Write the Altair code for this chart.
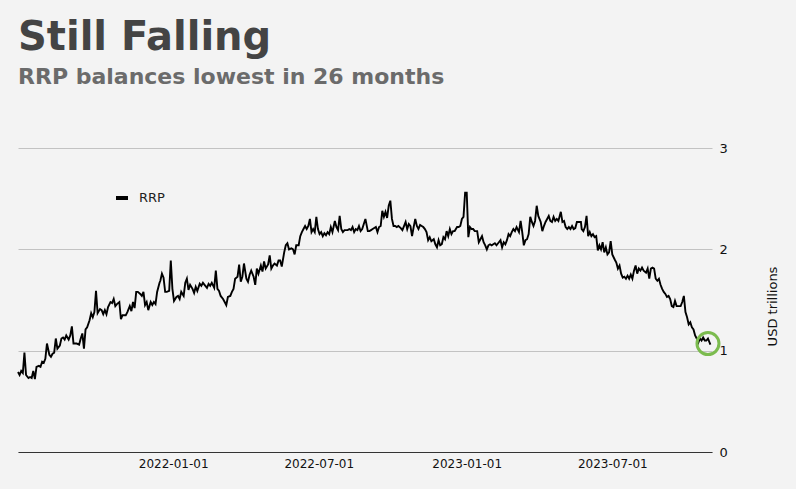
import altair as alt
import pandas as pd

# ---- data (USD trillions) ----
seg_a_vals = [0.79, 0.76, 0.80, 0.78, 0.98, 0.76, 0.73, 0.74, 0.73, 0.80, 0.72, 0.84, 0.85, 0.84, 0.89, 0.88,
              0.92, 1.07, 0.96, 0.94, 0.97, 0.98, 1.12, 1.02, 1.05, 1.12, 1.13, 1.11, 1.15, 1.11, 1.15, 1.24,
              1.07, 1.07, 1.07, 1.06, 1.12, 1.17, 1.02, 1.21, 1.23, 1.30, 1.37, 1.33, 1.38, 1.59, 1.37, 1.41,
              1.40, 1.36, 1.40, 1.36, 1.43, 1.48, 1.47, 1.51, 1.44, 1.46, 1.48, 1.31, 1.35, 1.35, 1.35, 1.38,
              1.44, 1.39, 1.48, 1.42, 1.58, 1.58, 1.56, 1.54, 1.58, 1.45, 1.48, 1.40, 1.48, 1.45, 1.48, 1.46,
              1.58, 1.67]
seg_b_vals = [1.69, 1.76, 1.72, 1.58, 1.58, 1.59, 1.89, 1.61, 1.49, 1.53, 1.54, 1.51, 1.58, 1.54, 1.67, 1.71,
              1.60, 1.65, 1.61, 1.57, 1.63, 1.59, 1.66, 1.64, 1.67, 1.65, 1.62, 1.66, 1.64, 1.67, 1.62, 1.79,
              1.61, 1.59, 1.54, 1.51, 1.48, 1.45, 1.53, 1.54, 1.58, 1.61, 1.71, 1.73, 1.85, 1.68, 1.73, 1.86,
              1.71, 1.68, 1.75, 1.79, 1.73, 1.65, 1.81, 1.76, 1.84, 1.78, 1.88, 1.81, 1.85, 1.94, 1.81, 1.84,
              1.86, 1.84, 1.89, 1.89, 1.83, 1.97, 2.04, 2.06, 2.00, 2.01, 2.00, 1.95, 2.04, 2.04]
seg_c_vals = [2.13, 2.17, 2.20, 2.23, 2.20, 2.23, 2.30, 2.17, 2.20, 2.17, 2.32, 2.20, 2.15, 2.17, 2.13, 2.16,
              2.14, 2.17, 2.15, 2.22, 2.17, 2.28, 2.22, 2.19, 2.33, 2.20, 2.17, 2.19, 2.19, 2.19, 2.20, 2.19,
              2.22, 2.17, 2.20, 2.19, 2.23, 2.18, 2.20, 2.25, 2.30, 2.18, 2.18, 2.19, 2.20, 2.21, 2.22, 2.17,
              2.22, 2.23, 2.38, 2.32, 2.37, 2.31, 2.43, 2.48, 2.30, 2.23, 2.23, 2.22, 2.23, 2.21, 2.19, 2.23,
              2.27, 2.20, 2.25, 2.23, 2.13, 2.22, 2.30, 2.23, 2.20, 2.24, 2.23, 2.22, 2.20, 2.17, 2.09, 2.12,
              2.08, 2.10]
seg_d_vals = [2.05, 2.02, 2.09, 2.04, 2.05, 2.12, 2.10, 2.18, 2.13, 2.20, 2.15, 2.18, 2.18, 2.22, 2.22, 2.23,
              2.30, 2.32, 2.56, 2.56, 2.12, 2.22, 2.20, 2.20, 2.18, 2.18, 2.07, 2.10, 2.13, 2.07, 2.04, 2.00,
              2.04, 2.05, 2.04, 2.05, 2.06, 2.04, 2.07, 2.09, 2.02, 2.07, 2.05, 2.09, 2.15, 2.13, 2.17, 2.20,
              2.18, 2.22, 2.17, 2.28, 2.17, 2.04, 2.09, 2.10, 2.15, 2.32, 2.27, 2.23, 2.28, 2.43, 2.33, 2.27,
              2.18, 2.23, 2.27, 2.30, 2.33, 2.28, 2.27, 2.32, 2.28, 2.30, 2.28, 2.37, 2.27, 2.28, 2.22, 2.20,
              2.22, 2.20, 2.23, 2.20, 2.21, 2.27, 2.27, 2.27]
seg_e_vals = [2.20, 2.18, 2.22, 2.33, 2.13, 2.17, 2.13, 2.15, 2.12, 2.13, 1.99, 2.04, 2.00, 2.07, 1.97, 2.02,
              1.95, 1.97, 2.08, 1.95, 1.90, 1.87, 1.81, 1.84, 1.76, 1.72, 1.73, 1.71, 1.74, 1.71, 1.75, 1.71,
              1.79, 1.84, 1.76, 1.81, 1.79, 1.82, 1.79, 1.77, 1.81, 1.71, 1.81, 1.82, 1.81, 1.71, 1.69, 1.71,
              1.65, 1.61, 1.58, 1.56, 1.53, 1.54, 1.51, 1.44, 1.43, 1.49, 1.44, 1.44, 1.44, 1.48, 1.54, 1.38,
              1.33, 1.26, 1.28, 1.23, 1.21, 1.15, 1.12, 1.08, 1.12, 1.10, 1.13, 1.10, 1.10, 1.12, 1.06]

# date span covered by each segment of readings
seg_spans = [("2021-06-22", "2021-12-15", seg_a_vals),
             ("2021-12-16", "2022-06-06", seg_b_vals),
             ("2022-06-08", "2022-11-21", seg_c_vals),
             ("2022-11-23", "2023-05-23", seg_d_vals),
             ("2023-05-24", "2023-10-31", seg_e_vals)]

dates, values = [], []
for start, end, vals in seg_spans:
    rng = pd.date_range(start, end, periods=len(vals))
    dates += list(rng.strftime("%Y-%m-%d"))
    values += vals

series_name = "RRP"
highlight_date = ["2023-10-28"]
highlight_value = [1.07]
tick_dates = [(2022, "Jan"), (2022, "Jul"), (2023, "Jan"), (2023, "Jul")]

df = pd.DataFrame({"date": dates, "value": values, "series": series_name})
hl = pd.DataFrame({"date": highlight_date, "value": highlight_value})

FONT = "DejaVu Sans"

x_scale = alt.Scale(type="utc",
                    domain=[alt.DateTime(year=2021, month="Jun", date=22, utc=True),
                            alt.DateTime(year=2023, month="Nov", date=2, utc=True)])
y_scale = alt.Scale(domain=[0, 3])

x_axis = alt.Axis(values=[alt.DateTime(year=y, month=m, date=1, utc=True) for y, m in tick_dates],
                  format="%Y-%m-%d", grid=False, ticks=False, domainColor="#333333", domainWidth=1,
                  labelFont=FONT, labelFontSize=12, labelColor="#111111", labelPadding=6, title=None)
y_axis = alt.Axis(orient="right", values=[0, 1, 2, 3], format="d", grid=True, gridColor="#c2c2c2",
                  ticks=False, domain=False, labelFont=FONT, labelFontSize=13, labelColor="#111111",
                  labelPadding=7, title="USD trillions", titleFont=FONT, titleFontSize=13,
                  titleFontWeight="normal", titleColor="#111111", titleAngle=270, titleBaseline="top",
                  titlePadding=39, titleY=158)

line = alt.Chart(df).mark_line(strokeWidth=1.9, interpolate="linear").encode(
    x=alt.X("date:T", scale=x_scale, axis=x_axis),
    y=alt.Y("value:Q", scale=y_scale, axis=y_axis),
    color=alt.Color("series:N", scale=alt.Scale(domain=[series_name], range=["#000000"]),
                    legend=alt.Legend(title=None, orient="none", legendX=96, legendY=42, padding=0,
                                      symbolType="stroke", symbolStrokeWidth=4, symbolSize=144,
                                      labelFont=FONT, labelFontSize=13, labelColor="#222222",
                                      labelOffset=9)),
)

circle = alt.Chart(hl).mark_point(filled=False, size=484, strokeWidth=3, color="#7bbb4e", opacity=1).encode(
    x=alt.X("date:T", scale=x_scale),
    y=alt.Y("value:Q", scale=y_scale),
)

chart = alt.layer(line, circle).properties(
    width=694, height=304,
    padding={"left": 14, "top": 18, "right": 16, "bottom": 20},
    background="#f3f3f3",
    title=alt.TitleParams(text="Still Falling", subtitle="RRP balances lowest in 26 months",
                          anchor="start", frame="group", font=FONT, fontSize=40, fontWeight="bold",
                          color="#444444", subtitleFont=FONT, subtitleFontSize=22,
                          subtitleFontWeight="bold", subtitleColor="#6b6b6b", subtitlePadding=9,
                          offset=54),
).configure_view(stroke=None)

chart.save("out.html", embed_options={"renderer": "svg", "actions": False})
